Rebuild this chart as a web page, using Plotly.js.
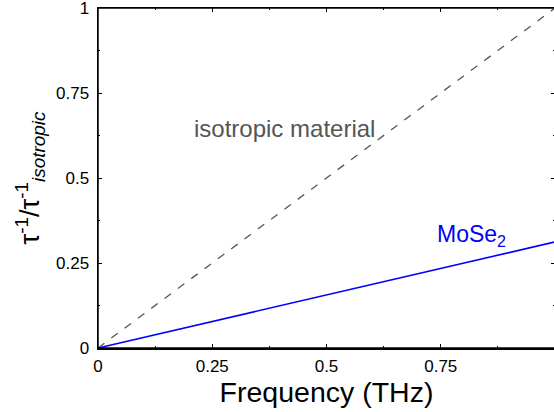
<!DOCTYPE html>
<html>
<head>
<meta charset="utf-8">
<script src="https://cdn.plot.ly/plotly-3.0.1.min.js"></script>
<style>
html,body{margin:0;padding:0;overflow:hidden;background:#fff;}
#chart{width:556px;height:412px;}
</style>
</head>
<body>
<div id="chart"></div>
<script>
// Data
const frequency = [0, 1];
const isotropicRate = [0, 1];
const mose2Rate = [0, 0.312];
const tickVals = [0, 0.25, 0.5, 0.75, 1];
const tickText = ["0", "0.25", "0.5", "0.75", "1"];
const xTickVals = [0, 0.25, 0.5, 0.75, 1];
const xTickText = ["0", "0.25", "0.5", "0.75", ""];
const minorTickVals = [0.125, 0.375, 0.625, 0.875];

const FONT = "Liberation Sans, Arial, Helvetica, sans-serif";

const traces = [
  {
    x: frequency, y: isotropicRate, mode: "lines", type: "scatter",
    line: {color: "#555555", width: 1.3, dash: "8px,8.6px"},
    hoverinfo: "skip"
  },
  {
    x: frequency, y: mose2Rate, mode: "lines", type: "scatter",
    line: {color: "#0000ff", width: 1.6},
    hoverinfo: "skip"
  },
  // empty carrier traces so the tick-only overlay axes are drawn
  {x: [], y: [], mode: "lines", type: "scatter", xaxis: "x2", yaxis: "y2", hoverinfo: "skip"},
  {x: [], y: [], mode: "lines", type: "scatter", xaxis: "x3", yaxis: "y", hoverinfo: "skip"},
  {x: [], y: [], mode: "lines", type: "scatter", xaxis: "x4", yaxis: "y", hoverinfo: "skip"}
];

const axisCommon = {
  showgrid: false, zeroline: false,
  showline: true, linecolor: "#000", linewidth: 1.5,
  mirror: "ticks",
  ticks: "inside", ticklen: 4, tickwidth: 1, tickcolor: "#000",
  tickmode: "array",
  tickfont: {family: FONT, size: 17, color: "#000"},
  ticklabeloverflow: "allow",
  fixedrange: true
};

const tickOnly = {
  showgrid: false, zeroline: false, showline: false,
  mirror: "ticks",
  ticks: "inside", tickwidth: 1, tickcolor: "#000",
  tickmode: "array",
  showticklabels: false, range: [0, 1], fixedrange: true
};

const layout = {
  width: 556, height: 412,
  margin: {l: 98, r: 1, t: 8, b: 64},
  paper_bgcolor: "#fff", plot_bgcolor: "#fff",
  showlegend: false,
  font: {family: FONT, color: "#000"},
  xaxis: Object.assign({}, axisCommon, {
    range: [0, 1],
    tickvals: xTickVals, ticktext: xTickText,
    ticklabelstandoff: 2,
    title: {text: "Frequency (THz)", font: {family: FONT, size: 28.5, color: "#000"}, standoff: 0}
  }),
  yaxis: Object.assign({}, axisCommon, {
    range: [0, 1],
    tickvals: tickVals, ticktext: tickText,
    ticklabelstandoff: 4,
    title: {text: "τ<sup>-1</sup>/τ<sup>-1</sup><sub><i>isotropic</i></sub>", font: {family: FONT, size: 27, color: "#000"}, standoff: 8}
  }),
  // minor ticks (bottom / left, mirrored)
  xaxis2: Object.assign({}, tickOnly, {overlaying: "x", anchor: "y2", side: "bottom", ticklen: 2, tickvals: minorTickVals}),
  yaxis2: Object.assign({}, tickOnly, {overlaying: "y", anchor: "x2", side: "left", ticklen: 2, tickvals: minorTickVals}),
  // top frame ticks (major and minor)
  xaxis3: Object.assign({}, tickOnly, {overlaying: "x", anchor: "y", side: "top", ticklen: 4, tickvals: xTickVals, mirror: false}),
  xaxis4: Object.assign({}, tickOnly, {overlaying: "x", anchor: "y", side: "top", ticklen: 2, tickvals: minorTickVals, mirror: false}),
  shapes: [
    {type: "rect", xref: "paper", yref: "paper", x0: 0, x1: 1, y0: 0, y1: 1,
     line: {color: "#000", width: 1.5}, fillcolor: "rgba(0,0,0,0)", layer: "above"}
  ],
  annotations: [
    {
      x: 0.2066, y: 0.647, xref: "x", yref: "y", xanchor: "left", yanchor: "middle",
      text: "isotropic material", showarrow: false,
      font: {family: FONT, size: 24, color: "#555555"}
    },
    {
      x: 0.737, y: 0.33, xref: "x", yref: "y", xanchor: "left", yanchor: "middle",
      text: "MoSe<sub>2</sub>", showarrow: false,
      font: {family: FONT, size: 23, color: "#0000ff"}
    }
  ]
};

Plotly.newPlot("chart", traces, layout, {displayModeBar: false, staticPlot: true});
</script>
</body>
</html>
